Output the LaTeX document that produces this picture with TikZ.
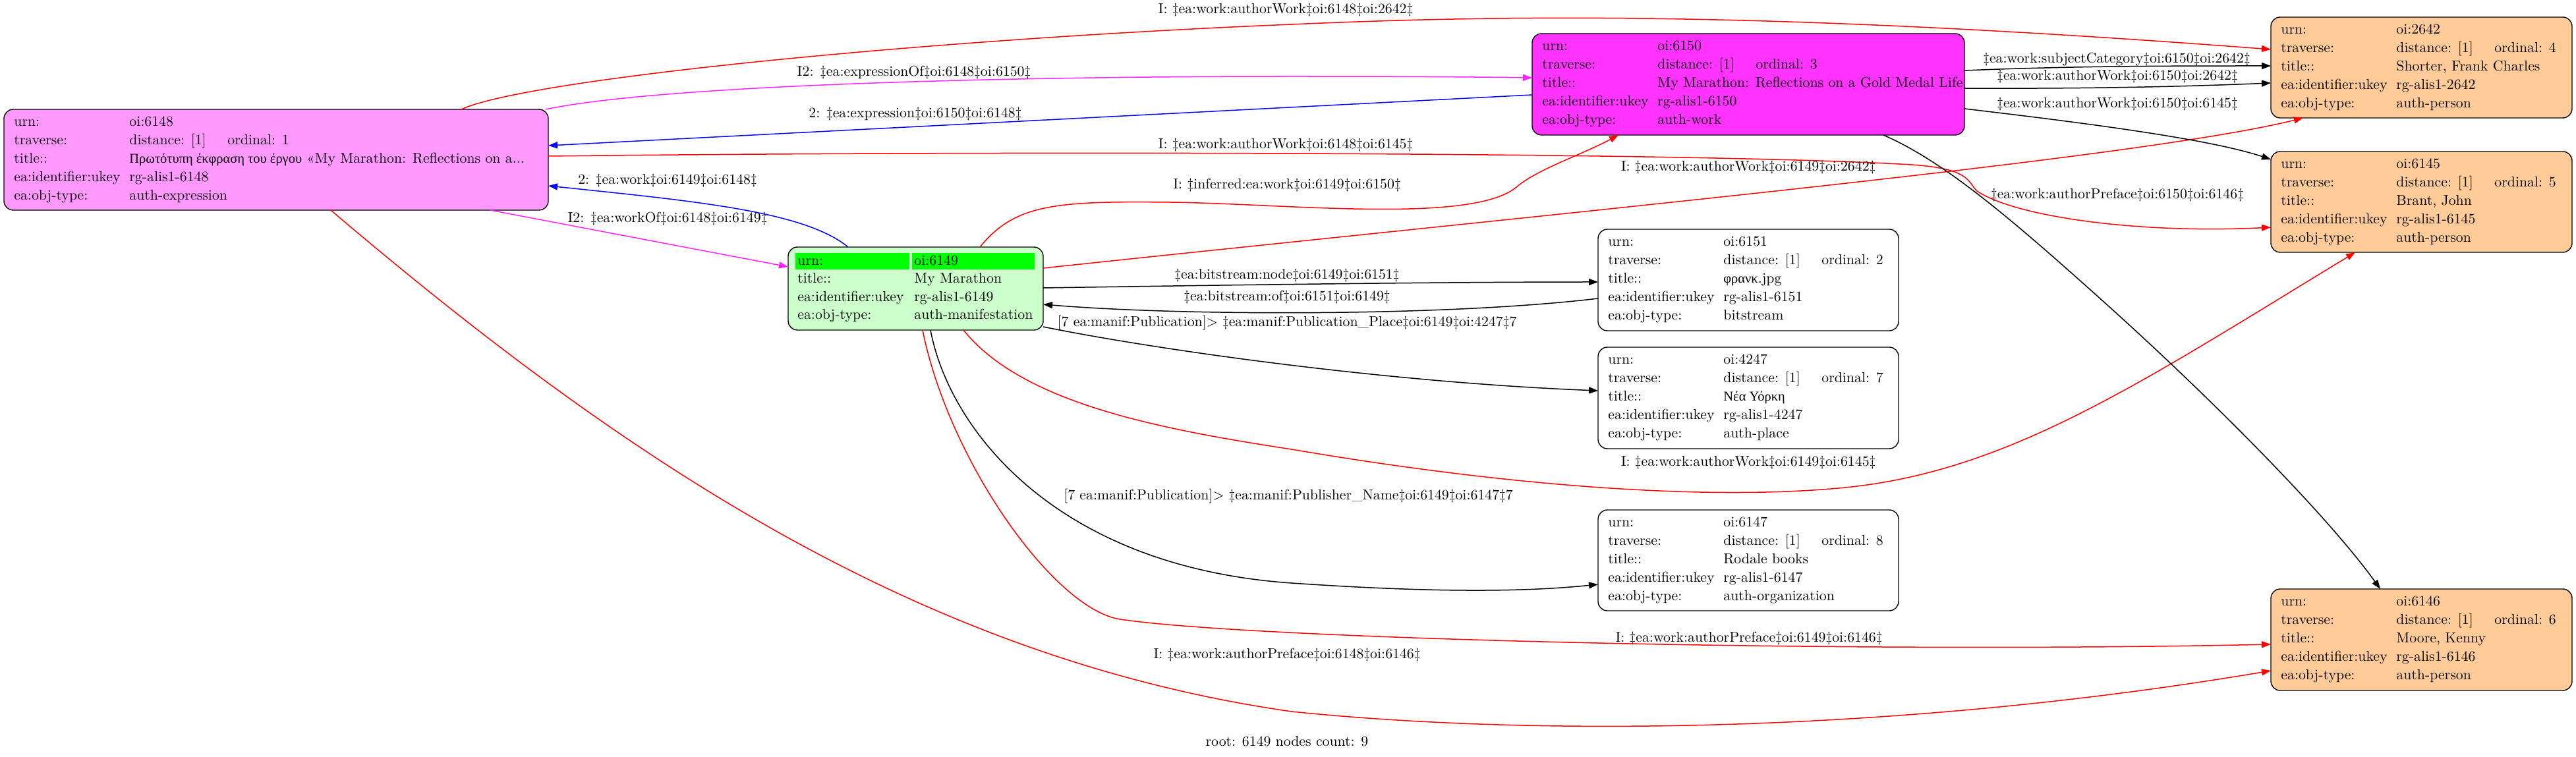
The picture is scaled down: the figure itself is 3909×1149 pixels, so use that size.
\documentclass[tikz,border=0pt]{standalone}
\usepackage{fontspec}
\newfontfamily\grk{Liberation Serif}[Scale=MatchLowercase]
\usetikzlibrary{arrows.meta}
\definecolor{pinkc}{HTML}{FF99FF}
\definecolor{magc}{HTML}{FF33FF}
\definecolor{orc}{HTML}{FFCC99}
\definecolor{lgc}{HTML}{CCFFCC}
\definecolor{grc}{HTML}{00FF00}
\definecolor{edgemag}{HTML}{FF22FF}
\newcommand\fs{\fontsize{10.9pt}{13pt}\selectfont}
\newcommand\mkbox[6]{\node[box,fill=#6,minimum width={(#4-#2)*0.5pt},minimum height={(#5-#3)*0.5pt}] (#1) at (#2,#3) {};}
\newcommand\fullrows[8]{%
 \node[txt] (#1-a) at ({#2+15},{#3+20}) {urn:};
 \node[txt] (#1-av) at ({#2+190},{#3+20}) {#4};
 \node[txt] (#1-b) at ({#2+15},{#3+48}) {traverse:};
 \node[txt] (#1-bv) at ({#2+190},{#3+48}) {distance: [1]};
 \node[txt] (#1-bo) at ({#2+339},{#3+48}) {ordinal: #5};
 \node[txt] (#1-c) at ({#2+15},{#3+76}) {title::};
 \node[txt] (#1-cv) at ({#2+190},{#3+76}) {#6};
 \node[txt] (#1-d) at ({#2+15},{#3+104}) {ea:identifier:ukey};
 \node[txt] (#1-dv) at ({#2+190},{#3+104}) {#7};
 \node[txt] (#1-e) at ({#2+15},{#3+132}) {ea:obj-type:};
 \node[txt] (#1-ev) at ({#2+190},{#3+132}) {#8};
}
\begin{document}
\begin{tikzpicture}[x=0.5pt,y=-0.5pt,
  box/.style={draw=black, line width=0.7pt, rounded corners=7pt, inner sep=0pt, outer sep=0pt, anchor=north west},
  txt/.style={anchor=west, inner sep=0pt, font=\fs, text height=7.6pt, text depth=2.2pt},
  lbl/.style={inner sep=0pt, font=\fs, text height=7.6pt, text depth=2.2pt},
  edge/.style={line width=0.75pt, -{Triangle[length=7pt,width=5pt]}},
  cell/.style={fill=grc, draw=none, inner sep=0pt, outer sep=0pt, anchor=north west}]
\useasboundingbox (0,0) rectangle (3909,1149);

% ---- boxes ----
\mkbox{n6148}{6}{166}{832}{319}{pinkc}
\mkbox{n6150}{2325}{51}{2981}{205}{magc}
\mkbox{n2642}{3446}{26}{3903}{179}{orc}
\mkbox{n6145}{3446}{230}{3903}{383}{orc}
\mkbox{n6146}{3446}{894}{3903}{1048}{orc}
\mkbox{n6149}{1196}{375}{1583}{501}{lgc}
\mkbox{n6151}{2425}{348}{2881}{502}{white}
\mkbox{n4247}{2425}{527}{2881}{681}{white}
\mkbox{n6147}{2425}{774}{2881}{927}{white}

% ---- box contents ----
\fullrows{n6148}{6}{166}{oi:6148}{1}{{\grk Πρωτότυπη έκφραση του έργου} «My Marathon: Reflections on a...}{rg-alis1-6148}{auth-expression}
\fullrows{n6150}{2325}{51}{oi:6150}{3}{My Marathon: Reflections on a Gold Medal Life}{rg-alis1-6150}{auth-work}
\fullrows{n2642}{3446}{26}{oi:2642}{4}{Shorter, Frank Charles}{rg-alis1-2642}{auth-person}
\fullrows{n6145}{3446}{230}{oi:6145}{5}{Brant, John}{rg-alis1-6145}{auth-person}
\fullrows{n6146}{3446}{894}{oi:6146}{6}{Moore, Kenny}{rg-alis1-6146}{auth-person}
\fullrows{n6151}{2425}{348}{oi:6151}{2}{{\grk φρανκ}.jpg}{rg-alis1-6151}{bitstream}
\fullrows{n4247}{2425}{527}{oi:4247}{7}{{\grk Νέα Υόρκη}}{rg-alis1-4247}{auth-place}
\fullrows{n6147}{2425}{774}{oi:6147}{8}{Rodale books}{rg-alis1-6147}{auth-organization}

\node[cell, minimum width={173*0.5pt}, minimum height={25.5*0.5pt}] (g1) at (1207,384) {};
\node[cell, minimum width={186*0.5pt}, minimum height={25.5*0.5pt}] (g2) at (1384,384) {};
\node[txt] (n6149-a) at (1210,397) {urn:};
\node[txt] (n6149-av) at (1387,397) {oi:6149};
\node[txt] (n6149-c) at (1210,424.5) {title::};
\node[txt] (n6149-cv) at (1387,424.5) {My Marathon};
\node[txt] (n6149-d) at (1210,452) {ea:identifier:ukey};
\node[txt] (n6149-dv) at (1387,452) {rg-alis1-6149};
\node[txt] (n6149-e) at (1210,479.5) {ea:obj-type:};
\node[txt] (n6149-ev) at (1387,479.5) {auth-manifestation};

% ---- edges ----
\draw[edge, red] (n6148.north -| 700,0) .. controls (800,120) and (1400,60) .. (1960,37) .. controls (2300,22) and (2700,18) .. (n2642.west |- 0,75);
\draw[edge, edgemag] (n6148.north -| 828,0) .. controls (1000,130) and (1500,116) .. (1960,116) .. controls (2150,116) and (2250,117) .. (n6150.west |- 0,118);
\draw[edge, blue] (n6150.west |- 0,144) -- (n6148.east |- 0,221);
\draw[edge, red] (n6148.east |- 0,237) .. controls (1600,228) and (2600,232) .. (2900,250) .. controls (2990,256) and (2985,275) .. (3000,290) .. controls (3060,330) and (3250,355) .. (n6145.west |- 0,345);
\draw[edge, blue] (n6149.north -| 1287,0) .. controls (1220,320) and (1050,305) .. (n6148.east |- 0,282);
\draw[edge, edgemag] (n6148.south -| 744,0) -- (n6149.west |- 0,405);
\draw[edge, red] (n6148.south -| 502,0) .. controls (950,700) and (1400,1000) .. (1960,1080) .. controls (2350,1120) and (2900,1110) .. (n6146.west |- 0,1018);
\draw[edge, red] (n6149.north -| 1487,0) .. controls (1540,310) and (1600,305) .. (1775,307) .. controls (1950,309) and (2230,340) .. (2300,285) .. controls (2330,258) and (2400,235) .. (n6150.south -| 2456,0);
\draw[edge, red] (n6149.east |- 0,407) .. controls (2400,320) and (3250,240) .. (n2642.south -| 3495,0);
\draw[edge] (n6149.east |- 0,437) .. controls (1900,432) and (2200,428) .. (n6151.west |- 0,428);
\draw[edge] (n6151.west |- 0,453) .. controls (2200,480) and (1800,480) .. (n6149.east |- 0,462);
\draw[edge] (n6149.east |- 0,496) .. controls (1750,530) and (2100,580) .. (n4247.west |- 0,593);
\draw[edge] (n6149.south -| 1412,0) .. controls (1440,650) and (1600,860) .. (1960,885) .. controls (2150,898) and (2300,900) .. (n6147.west |- 0,887);
\draw[edge, red] (n6149.south -| 1400,0) .. controls (1440,700) and (1600,925) .. (1700,940) .. controls (1900,970) and (2800,992) .. (n6146.west |- 0,978);
\draw[edge, red] (n6149.south -| 1462,0) .. controls (1550,610) and (1750,650) .. (1960,682) .. controls (2300,740) and (2600,760) .. (2800,740) .. controls (3050,715) and (3250,580) .. (n6145.south -| 3574,0);
\draw[edge] (n6150.east |- 0,107) .. controls (3150,100) and (3300,100) .. (n2642.west |- 0,100);
\draw[edge] (n6150.east |- 0,134) .. controls (3200,135) and (3350,130) .. (n2642.west |- 0,126);
\draw[edge] (n6150.east |- 0,165) .. controls (3150,185) and (3350,210) .. (n6145.west |- 0,242);
\draw[edge] (n6150.south -| 2858,0) .. controls (2950,245) and (3050,330) .. (3200,465) .. controls (3350,600) and (3530,780) .. (n6146.north -| 3612,0);

% ---- edge labels ----
\node[lbl] (l1) at (1951,15) {I: ‡ea:work:authorWork‡oi:6148‡oi:2642‡};
\node[lbl] (l2) at (1387,110) {I2: ‡ea:expressionOf‡oi:6148‡oi:6150‡};
\node[lbl] (l3) at (1389,173) {2: ‡ea:expression‡oi:6150‡oi:6148‡};
\node[lbl] (l4) at (1951,220) {I: ‡ea:work:authorWork‡oi:6148‡oi:6145‡};
\node[lbl] (l5) at (1013,274) {2: ‡ea:work‡oi:6149‡oi:6148‡};
\node[lbl] (l6) at (1013,332) {I2: ‡ea:workOf‡oi:6148‡oi:6149‡};
\node[lbl] (l7) at (1953,994) {I: ‡ea:work:authorPreface‡oi:6148‡oi:6146‡};
\node[lbl] (l8) at (1953,281) {I: ‡inferred:ea:work‡oi:6149‡oi:6150‡};
\node[lbl] (l9) at (2653,254) {I: ‡ea:work:authorWork‡oi:6149‡oi:2642‡};
\node[lbl] (l10) at (1953,418) {‡ea:bitstream:node‡oi:6149‡oi:6151‡};
\node[lbl] (l11) at (1953,451) {‡ea:bitstream:of‡oi:6151‡oi:6149‡};
\node[lbl] (l12) at (1953,490) {[7 ea:manif:Publication]> ‡ea:manif:Publication\_Place‡oi:6149‡oi:4247‡7};
\node[lbl] (l13) at (1955,753) {[7 ea:manif:Publication]> ‡ea:manif:Publisher\_Name‡oi:6149‡oi:6147‡7};
\node[lbl] (l14) at (2654,969) {I: ‡ea:work:authorPreface‡oi:6149‡oi:6146‡};
\node[lbl] (l15) at (2653,702) {I: ‡ea:work:authorWork‡oi:6149‡oi:6145‡};
\node[lbl] (l16) at (3212,90) {‡ea:work:subjectCategory‡oi:6150‡oi:2642‡};
\node[lbl] (l17) at (3213,116) {‡ea:work:authorWork‡oi:6150‡oi:2642‡};
\node[lbl] (l18) at (3213,158) {‡ea:work:authorWork‡oi:6150‡oi:6145‡};
\node[lbl] (l19) at (3213,296) {‡ea:work:authorPreface‡oi:6150‡oi:6146‡};
\node[lbl] (root) at (1953,1127) {root: 6149 nodes count: 9};
\end{tikzpicture}
\end{document}
